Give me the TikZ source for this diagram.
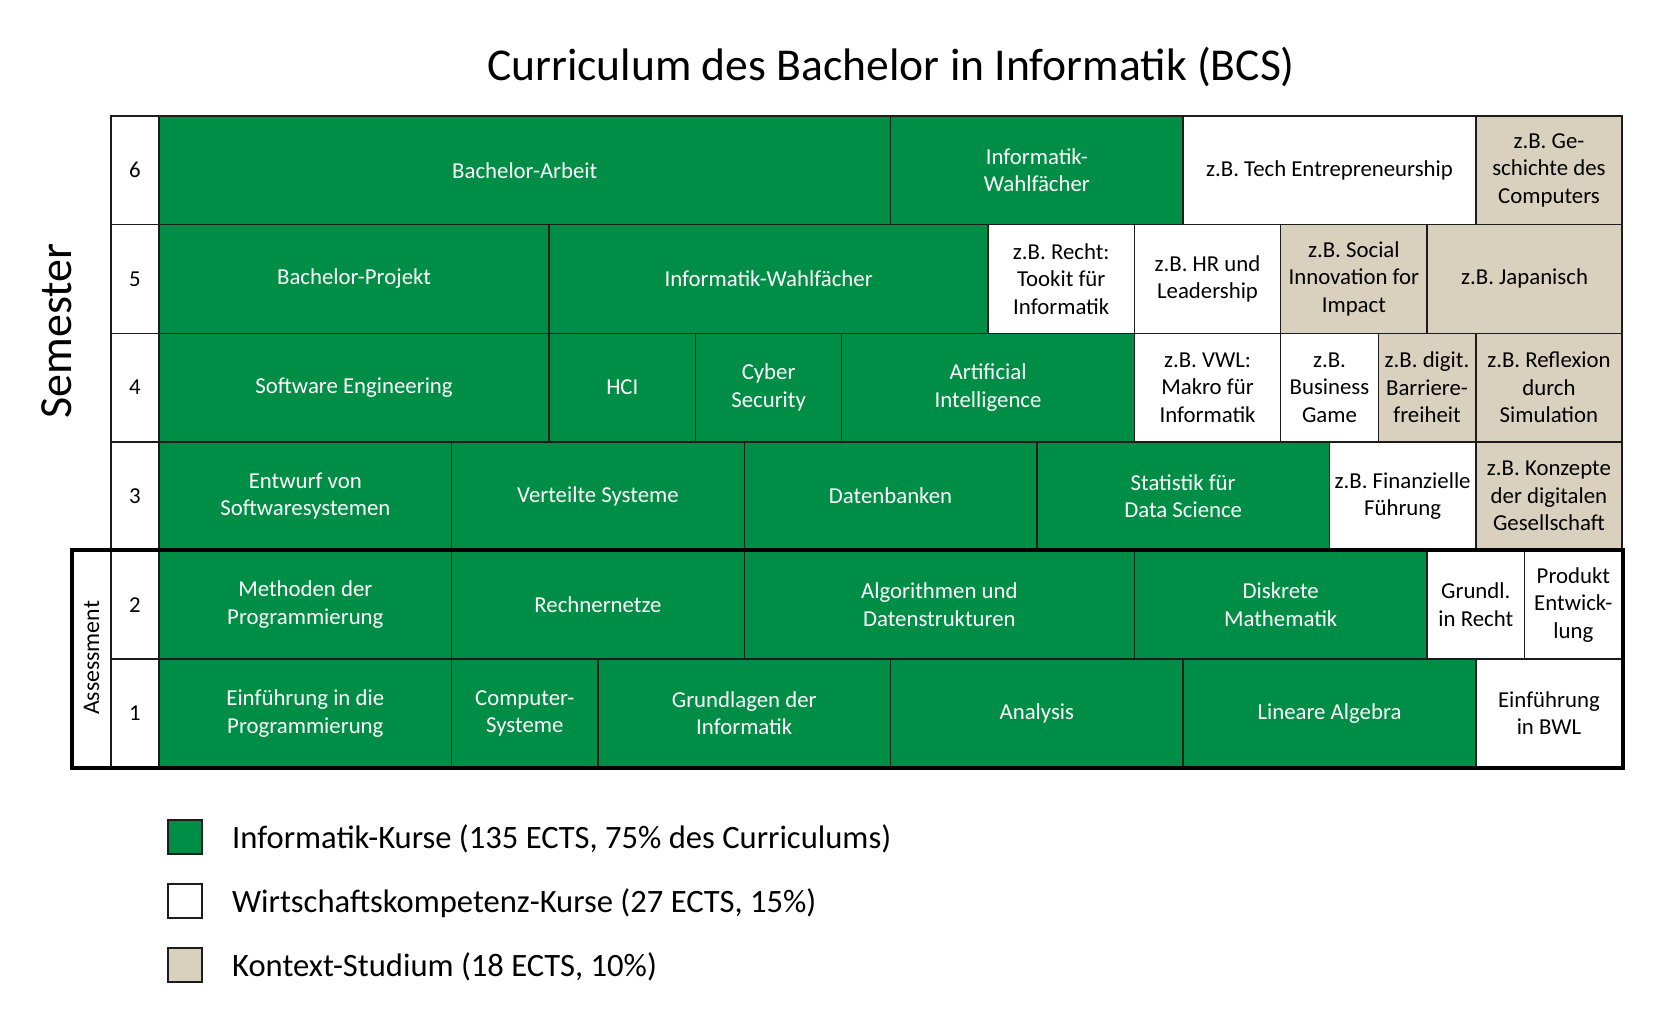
\documentclass[tikz,border=0pt]{standalone}
\usepackage{fontspec}
\setmainfont{Carlito}
\definecolor{ethgreen}{RGB}{0,141,69}
\definecolor{ctxbeige}{RGB}{217,208,190}
\definecolor{gridline}{RGB}{28,28,28}
\tikzset{
  cellbase/.style={draw=gridline, line width=1.4pt, inner sep=0pt, align=center,
    font=\fontsize{22.8}{27.5}\selectfont},
  cs/.style={cellbase, fill=ethgreen, text=white},
  wk/.style={cellbase, fill=white, text=black},
  kx/.style={cellbase, fill=ctxbeige, text=black},
  numcell/.style={cellbase, fill=white, text=black, minimum width=48pt, minimum height=108.6pt},
  thickbox/.style={draw=black, line width=4pt},
  legsq/.style={draw=gridline, line width=1.3pt, minimum size=34pt, inner sep=0pt},
  legtext/.style={inner sep=0pt, font=\fontsize{32.6}{36}\selectfont, text=black},
}
% #1 name, #2 style, #3 semester, #4 from unit, #5 to unit, #6 text
\newcommand\crs[6]{%
  \pgfmathsetmacro\crscx{159+(#4+#5)/2*48.77}%
  \pgfmathsetmacro\crscw{(#5-#4)*48.77}%
  \pgfmathsetmacro\crscy{116+(6-#3)*108.6+54.3}%
  \node[#2, minimum width=\crscw pt, minimum height=108.6pt] (#1) at (\crscx,\crscy) {#6};%
}
\newcommand\semnum[2]{%
  \pgfmathsetmacro\crscy{116+(6-#2)*108.6+54.3}%
  \node[numcell] (#1) at (135,\crscy) {#2};%
}
\begin{document}
\begin{tikzpicture}[x=1pt,y=-1pt]
\useasboundingbox (0,0) rectangle (1655,1010);

\node[font=\fontsize{45.6}{50}\selectfont, anchor=base, inner sep=0pt] (title) at (891,80)
  {Curriculum des Bachelor in Informatik (BCS)};

\node[rotate=90, font=\fontsize{46}{50}\selectfont, inner sep=0pt] (semester) at (57,331) {Semester};

% semester numbers
\semnum{s6}{6}
\semnum{s5}{5}
\semnum{s4}{4}
\semnum{s3}{3}
\semnum{s2}{2}
\semnum{s1}{1}

% semester 6
\crs{arbeit}{cs}{6}{0}{15}{Bachelor-Arbeit}
\crs{wahlA}{cs}{6}{15}{21}{Informatik-\\Wahlfächer}
\crs{tech}{wk}{6}{21}{27}{z.B. Tech Entrepreneurship}
\crs{gesch}{kx}{6}{27}{30}{z.B. Ge-\\schichte des\\Computers}
% semester 5
\crs{projekt}{cs}{5}{0}{8}{Bachelor-Projekt}
\crs{wahlB}{cs}{5}{8}{17}{Informatik-Wahlfächer}
\crs{recht}{wk}{5}{17}{20}{z.B. Recht:\\Tookit für\\Informatik}
\crs{hr}{wk}{5}{20}{23}{z.B. HR und\\Leadership}
\crs{social}{kx}{5}{23}{26}{z.B. Social\\Innovation for\\Impact}
\crs{japan}{kx}{5}{26}{30}{z.B. Japanisch}
% semester 4
\crs{se}{cs}{4}{0}{8}{Software Engineering}
\crs{hci}{cs}{4}{8}{11}{HCI}
\crs{cyber}{cs}{4}{11}{14}{Cyber\\Security}
\crs{ai}{cs}{4}{14}{20}{Artificial\\Intelligence}
\crs{vwl}{wk}{4}{20}{23}{z.B. VWL:\\Makro für\\Informatik}
\crs{game}{wk}{4}{23}{25}{z.B.\\Business\\Game}
\crs{barr}{kx}{4}{25}{27}{z.B. digit.\\Barriere-\\freiheit}
\crs{refl}{kx}{4}{27}{30}{z.B. Reflexion\\durch\\Simulation}
% semester 3
\crs{entwurf}{cs}{3}{0}{6}{Entwurf von\\Softwaresystemen}
\crs{vs}{cs}{3}{6}{12}{Verteilte Systeme}
\crs{db}{cs}{3}{12}{18}{Datenbanken}
\crs{stat}{cs}{3}{18}{24}{Statistik für\\Data Science}
\crs{fin}{wk}{3}{24}{27}{z.B. Finanzielle\\Führung}
\crs{konz}{kx}{3}{27}{30}{z.B. Konzepte\\der digitalen\\Gesellschaft}
% semester 2
\crs{methoden}{cs}{2}{0}{6}{Methoden der\\Programmierung}
\crs{netze}{cs}{2}{6}{12}{Rechnernetze}
\crs{algo}{cs}{2}{12}{20}{Algorithmen und\\Datenstrukturen}
\crs{diskret}{cs}{2}{20}{26}{Diskrete\\Mathematik}
\crs{grundl}{wk}{2}{26}{28}{Grundl.\\in Recht}
\crs{produkt}{wk}{2}{28}{30}{Produkt\\Entwick-\\lung}
% semester 1
\crs{einf}{cs}{1}{0}{6}{Einführung in die\\Programmierung}
\crs{compsys}{cs}{1}{6}{9}{Computer-\\Systeme}
\crs{grundinf}{cs}{1}{9}{15}{Grundlagen der\\Informatik}
\crs{ana}{cs}{1}{15}{21}{Analysis}
\crs{linalg}{cs}{1}{21}{27}{Lineare Algebra}
\crs{bwl}{wk}{1}{27}{30}{Einführung\\in BWL}

% assessment block
\node[rotate=90, inner sep=0pt, font=\fontsize{23.8}{27.5}\selectfont] (assess) at (91.5,658) {Assessment};
\coordinate (asmNW) at (72,550.4);
\coordinate (asmSE) at (1623,767.6);
\draw[thickbox] (asmNW) rectangle (asmSE);

% legend
\node[legsq, fill=ethgreen] (lg1) at (185,837) {};
\node[legsq, fill=white] (lg2) at (185,901) {};
\node[legsq, fill=ctxbeige] (lg3) at (185,965) {};
\node[legtext, anchor=base west] (lt1) at (232,848) {Informatik-Kurse (135 ECTS, 75\% des Curriculums)};
\node[legtext, anchor=base west] (lt2) at (232,912) {Wirtschaftskompetenz-Kurse (27 ECTS, 15\%)};
\node[legtext, anchor=base west] (lt3) at (232,976) {Kontext-Studium (18 ECTS, 10\%)};
\end{tikzpicture}
\end{document}
